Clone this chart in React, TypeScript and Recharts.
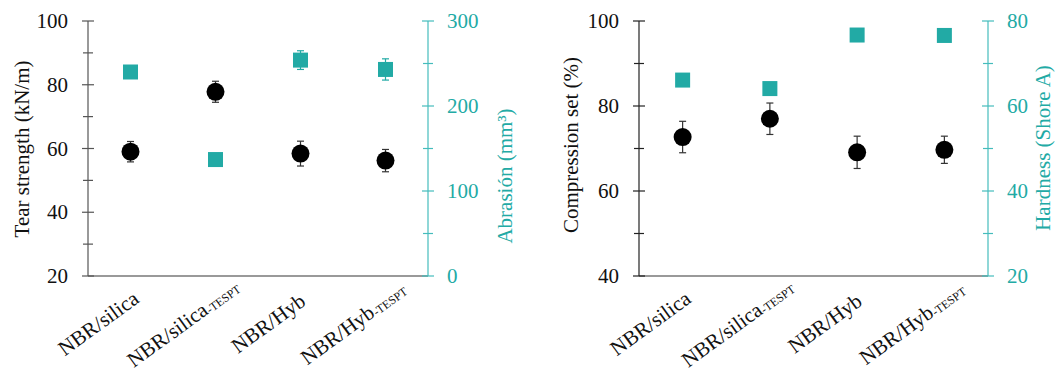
import { ComposedChart, Scatter, ErrorBar, XAxis, YAxis } from 'recharts';

const categories = ['NBR/silica', 'NBR/silica-TESPT', 'NBR/Hyb', 'NBR/Hyb-TESPT'];

const tearStrength = [59, 77.8, 58.4, 56.2];
const tearStrengthErr = [3.2, 3.3, 3.9, 3.5];
const abrasion = [240, 137, 254, 243];
const abrasionErr = [4, 4, 11, 12.5];

const compressionSet = [72.7, 77, 69.1, 69.7];
const compressionSetErr = [3.7, 3.7, 3.8, 3.2];
const hardness = [66.1, 64.1, 76.7, 76.6];
const hardnessErr = [1, 1, 1, 1];

const tearTicks = [20, 30, 40, 50, 60, 70, 80, 90, 100];
const abrasionTicks = [0, 50, 100, 150, 200, 250, 300];
const compressionTicks = [40, 50, 60, 70, 80, 90, 100];
const hardnessTicks = [20, 30, 40, 50, 60, 70, 80];

const tearData = categories.map((name, i) => ({
  name,
  tear: tearStrength[i],
  tearErr: tearStrengthErr[i],
  abrasion: abrasion[i],
  abrasionErr: abrasionErr[i],
}));

const compressionData = categories.map((name, i) => ({
  name,
  comp: compressionSet[i],
  compErr: compressionSetErr[i],
  hardness: hardness[i],
  hardnessErr: hardnessErr[i],
}));

const FONT = '"Liberation Serif", "Times New Roman", serif';
const TEAL = '#22aaa5';
const TEAL_AXIS = '#45bcbc';
const DARK_AXIS = '#555';

// y-axis tick: line crossing the axis, label only on the major values
const makeYTick = (side: 'left' | 'right', color: string, labelEvery: number) => (props: any) => {
  const { x, y, payload } = props;
  const major = payload.value % labelEvery === 0;
  const half = major ? 6 : 5;
  return (
    <g>
      <line x1={x - half} x2={x + half} y1={y} y2={y} stroke={color} strokeWidth={1.2} />
      {major && (
        <text
          x={side === 'left' ? x - 20 : x + 19}
          y={y}
          textAnchor={side === 'left' ? 'end' : 'start'}
          dominantBaseline="central"
          style={{ fontFamily: FONT, fontSize: 21 }}
          fill={side === 'left' ? '#111' : TEAL}
        >
          {payload.value}
        </text>
      )}
    </g>
  );
};

// rotated category label, "-TESPT" drawn small
const CategoryTick = (props: any) => {
  const { x, y, payload } = props;
  const [base, suffix] = String(payload.value).split('-');
  return (
    <g transform={`translate(${x - 28},${y + 53}) rotate(-36)`}>
      <text x={0} y={0} textAnchor="middle" style={{ fontFamily: FONT, fontSize: 21 }} fill="#111">
        {base}
        {suffix && (
          <tspan style={{ fontSize: 12 }} dy={1}>
            -{suffix}
          </tspan>
        )}
      </text>
    </g>
  );
};

const axisTitle = (text: string, cx: number, cy: number, color: string) => () => (
  <g transform={`translate(${cx},${cy}) rotate(-90)`}>
    <text
      x={0}
      y={0}
      textAnchor="middle"
      dominantBaseline="central"
      style={{ fontFamily: FONT, fontSize: 21 }}
      fill={color}
    >
      {text}
    </text>
  </g>
);

const Circle = (p: any) => <circle cx={p.cx} cy={p.cy} r={9} fill="#000" />;
const Square = (p: any) => <rect x={p.cx - 7.5} y={p.cy - 7.5} width={15} height={15} fill={TEAL} />;

export default function App() {
  return (
    <div style={{ position: 'absolute', left: 0, top: 0, width: 1055, height: 376, background: '#fff', fontFamily: FONT }}>
      <div style={{ position: 'absolute', left: 0, top: 0 }}>
        <ComposedChart width={527} height={376} data={tearData} margin={{ top: 21, right: 0, bottom: 10, left: 0 }}>
          <XAxis
            dataKey="name"
            scale="band"
            height={90}
            interval={0}
            tickLine={false}
            tickSize={0}
            tickMargin={0}
            axisLine={{ stroke: '#777', strokeWidth: 1.5 }}
            tick={CategoryTick}
          />
          <YAxis
            yAxisId="left"
            width={88}
            domain={[20, 100]}
            ticks={tearTicks}
            interval={0}
            tickLine={false}
            tickSize={0}
            tickMargin={0}
            axisLine={{ stroke: DARK_AXIS, strokeWidth: 1.2 }}
            tick={makeYTick('left', DARK_AXIS, 20)}
            label={{ content: axisTitle('Tear strength (kN/m)', 22, 149, '#111') }}
          />
          <YAxis
            yAxisId="right"
            orientation="right"
            width={99}
            domain={[0, 300]}
            ticks={abrasionTicks}
            interval={0}
            tickLine={false}
            tickSize={0}
            tickMargin={0}
            axisLine={{ stroke: TEAL_AXIS, strokeWidth: 1.2 }}
            tick={makeYTick('right', TEAL_AXIS, 100)}
            label={{ content: axisTitle('Abrasión  (mm³)', 505, 176, TEAL) }}
          />
          <Scatter yAxisId="right" dataKey="abrasion" shape={Square} isAnimationActive={false}>
            <ErrorBar dataKey="abrasionErr" direction="y" width={3.5} stroke={TEAL} strokeWidth={1.2} />
          </Scatter>
          <Scatter yAxisId="left" dataKey="tear" shape={Circle} isAnimationActive={false}>
            <ErrorBar dataKey="tearErr" direction="y" width={3.5} stroke="#333" strokeWidth={1.2} />
          </Scatter>
        </ComposedChart>
      </div>
      <div style={{ position: 'absolute', left: 527, top: 0 }}>
        <ComposedChart width={528} height={376} data={compressionData} margin={{ top: 21, right: 0, bottom: 10, left: 0 }}>
          <XAxis
            dataKey="name"
            scale="band"
            height={90}
            interval={0}
            tickLine={false}
            tickSize={0}
            tickMargin={0}
            axisLine={{ stroke: '#777', strokeWidth: 1.5 }}
            tick={CategoryTick}
          />
          <YAxis
            yAxisId="left"
            width={112}
            domain={[40, 100]}
            ticks={compressionTicks}
            interval={0}
            tickLine={false}
            tickSize={0}
            tickMargin={0}
            axisLine={{ stroke: '#222', strokeWidth: 1.2 }}
            tick={makeYTick('left', '#222', 20)}
            label={{ content: axisTitle('Compression set (%)', 44, 145, '#111') }}
          />
          <YAxis
            yAxisId="right"
            orientation="right"
            width={67}
            domain={[20, 80]}
            ticks={hardnessTicks}
            interval={0}
            tickLine={false}
            tickSize={0}
            tickMargin={0}
            axisLine={{ stroke: TEAL_AXIS, strokeWidth: 1.2 }}
            tick={makeYTick('right', TEAL_AXIS, 20)}
            label={{ content: axisTitle('Hardness (Shore A)', 516, 148, TEAL) }}
          />
          <Scatter yAxisId="right" dataKey="hardness" shape={Square} isAnimationActive={false}>
            <ErrorBar dataKey="hardnessErr" direction="y" width={3.5} stroke={TEAL} strokeWidth={1.2} />
          </Scatter>
          <Scatter yAxisId="left" dataKey="comp" shape={Circle} isAnimationActive={false}>
            <ErrorBar dataKey="compErr" direction="y" width={3.5} stroke="#333" strokeWidth={1.2} />
          </Scatter>
        </ComposedChart>
      </div>
    </div>
  );
}
